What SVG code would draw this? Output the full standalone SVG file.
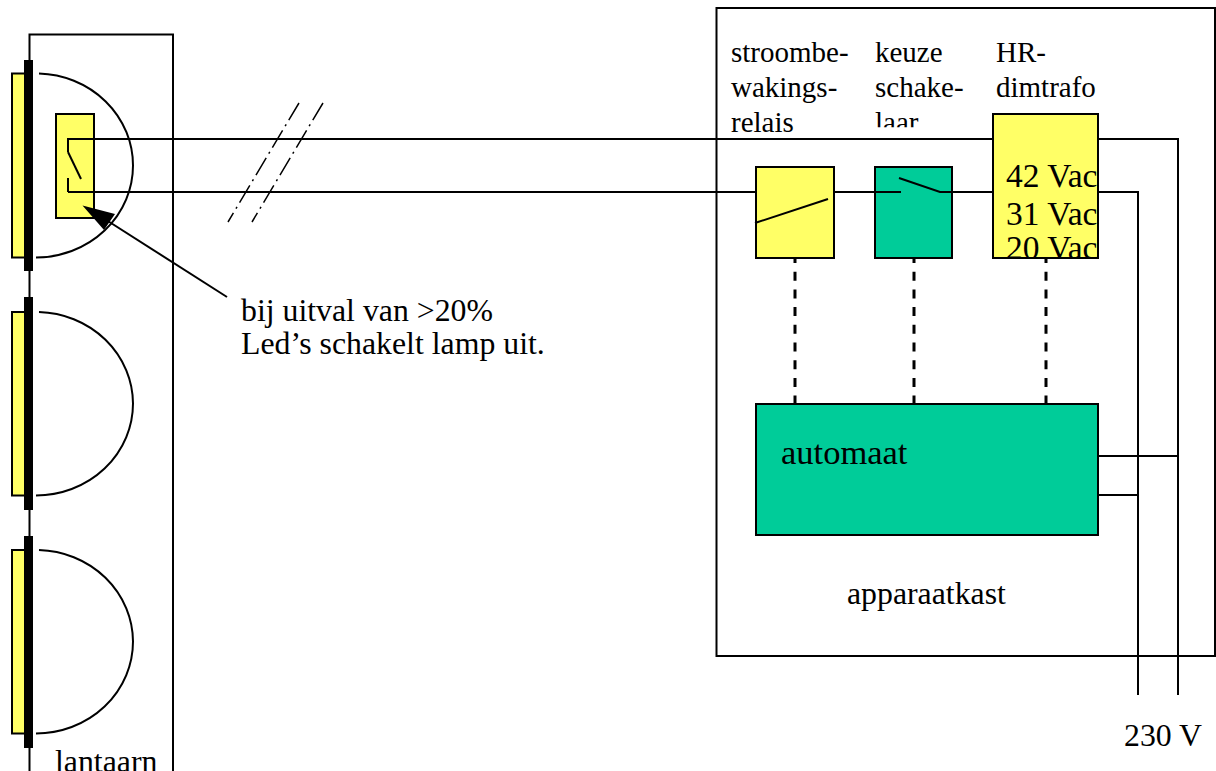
<svg xmlns="http://www.w3.org/2000/svg" width="1216" height="771" viewBox="0 0 1216 771">
<style>
.l{fill:none;stroke:#000;stroke-width:2}
.t{font-family:"Liberation Serif","Times New Roman",serif;font-size:29px;fill:#000}
.n{font-size:31.800px}
.v{font-size:33.500px}
.a{font-size:34.500px}
.y{fill:#ffff66;stroke:#000;stroke-width:2}
.g{fill:#00cc99;stroke:#000;stroke-width:2}
.b{fill:#000}
.d{fill:none;stroke:#000;stroke-width:3;stroke-dasharray:9 8.700;stroke-dashoffset:4}
.c{fill:none;stroke:#000;stroke-width:1.500;stroke-dasharray:20 5 2 5}
</style>
<defs>
<clipPath id="c1"><rect x="720" y="100" width="280" height="27.300"/></clipPath>
<clipPath id="c2"><rect x="990" y="114" width="108" height="144"/></clipPath>
</defs>
<rect width="1216" height="771" fill="#fff"/>
<g id="lantaarn"><path class="l" d="M29.500 771V34.500H173V771"/><text class="t n" x="55" y="772">lantaarn</text></g>
<g id="lamp1"><rect class="y" x="12" y="73.500" width="16" height="184"/><rect class="b" x="24" y="60" width="9" height="211"/><path class="l" d="M39 73.500A97 92 0 0 1 133 165.500A97 92 0 0 1 36 257.500"/></g>
<g id="lamp2"><rect class="y" x="12" y="312" width="16" height="183.500"/><rect class="b" x="24" y="297" width="9" height="213"/><path class="l" d="M39 312A97 92 0 0 1 133 403.500A97 92 0 0 1 36 495.500"/></g>
<g id="lamp3"><rect class="y" x="12" y="550" width="16" height="183.500"/><rect class="b" x="24" y="536" width="9" height="212"/><path class="l" d="M39 550A97 92 0 0 1 133 641.500A97 92 0 0 1 36 733.500"/></g>
<g id="sensor"><rect class="y" x="56" y="114" width="38" height="104"/></g>
<g id="apparaatkast"><rect class="l" x="716.500" y="8" width="498.500" height="648"/><text class="t n" x="847" y="604">apparaatkast</text></g>
<g id="connectors">
<path class="l" d="M68 192V178M68 192H901M899 178L940 192H1138V695M68 152V139H1178V695"/>
<path class="l" d="M68 152L81 179"/>
<path class="l" d="M1098 456H1178M1098 495H1138"/>
<path class="c" d="M299 103L228 222M323 103L252 222"/>
<path class="d" d="M795 258V404M914 258V404M1046 258V404"/>
<path class="l" d="M227 297L100 216"/>
<path class="b" d="M82.500 205.500L115 214L104 230Z"/>
</g>
<g id="relais"><rect class="y" x="756" y="167" width="78" height="91"/><path class="l" d="M755 223L828 199"/><text class="t" x="731" y="62">stroombe-</text><text class="t" x="731" y="96.500">wakings-</text><text class="t" x="731" y="131.500">relais</text></g>
<g id="schakelaar"><rect class="g" x="875" y="167" width="77" height="91"/><path class="l" d="M875 192H901M899 178L940 192H952"/><text class="t" x="875" y="62">keuze</text><text class="t" x="875" y="96.500">schake-</text><text class="t" x="875" y="131.500" clip-path="url(#c1)">laar</text></g>
<g id="dimtrafo"><rect class="y" x="993" y="114" width="105" height="144"/><text class="t" x="996" y="62">HR-</text><text class="t" x="996" y="97">dimtrafo</text><g clip-path="url(#c2)"><text class="t v" x="1006" y="187">42 Vac</text><text class="t v" x="1006" y="225">31 Vac</text><text class="t v" x="1006" y="259">20 Vac</text></g></g>
<g id="automaat"><rect class="g" x="756" y="404" width="342" height="131"/><text class="t a" x="781" y="464">automaat</text></g>
<g id="note"><text class="t n" x="241" y="320.500">bij uitval van &gt;20%</text><text class="t n" x="241" y="353.500">Led’s schakelt lamp uit.</text></g>
<text id="v230" class="t n" x="1124" y="746">230 V</text>
</svg>
